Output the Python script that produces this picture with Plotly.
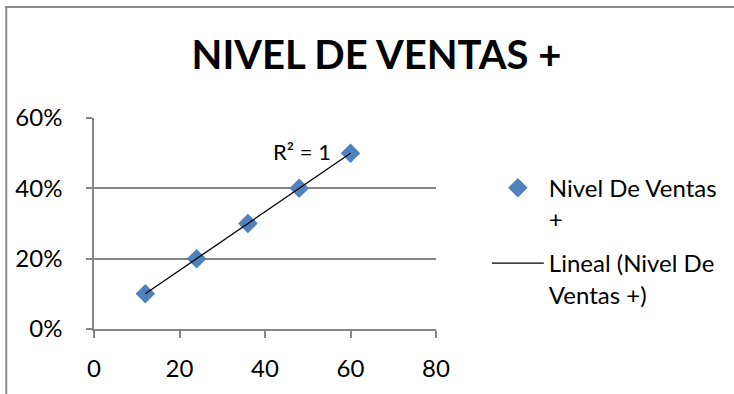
import numpy as np
import plotly.graph_objects as go

x_vals = [12, 24, 36, 48, 60]
y_vals = [0.10, 0.20, 0.30, 0.40, 0.50]
series_name = "Nivel De Ventas<br>+"
trend_name = "Lineal (Nivel De<br>Ventas +)"
title_text = "NIVEL DE VENTAS +"
x_ticks = [0, 20, 40, 60, 80]
y_ticks = [0, 0.2, 0.4, 0.6]

slope, intercept = np.polyfit(x_vals, y_vals, 1)
tx = [min(x_vals), max(x_vals)]
ty = [slope * v + intercept for v in tx]

FONT = "Lato"
L, R, T, B = 94, 297, 118, 63
PW, PH = 734 - L - R, 394 - T - B

def px_x(p):
    return (p - L) / PW

def px_y(p):
    return (394 - B - p) / PH

fig = go.Figure()
fig.add_trace(go.Scatter(x=x_vals, y=y_vals, mode="markers", name=series_name,
                         legendgroup="a",
                         marker=dict(symbol="diamond", size=15, color="#4F81BD")))
fig.add_trace(go.Scatter(x=tx, y=ty, mode="lines", name=trend_name,
                         legendgroup="b",
                         line=dict(color="black", width=1.3)))

fig.update_layout(
    width=734, height=394,
    margin=dict(l=L, r=R, t=T, b=B),
    paper_bgcolor="white", plot_bgcolor="white",
    font=dict(family=FONT, size=24, color="black"),
    title=dict(text="<b>" + title_text + "</b>", x=376.5 / 734, xanchor="center",
               y=1 - 54.5 / 394, yanchor="middle", font=dict(size=40, family=FONT)),
    xaxis=dict(range=[0, 80], tickvals=x_ticks, showgrid=False, zeroline=False,
               showline=True, linecolor="#868686", linewidth=1.5, ticks="outside", ticklen=7,
               tickcolor="#868686", tickwidth=1.5, tickfont=dict(size=24),
               ticklabelstandoff=10),
    yaxis=dict(range=[0, 0.6], tickvals=y_ticks, tickformat=".0%", showgrid=True,
               gridcolor="#868686", gridwidth=1.5, zeroline=False, showline=True,
               linecolor="#868686", linewidth=1.5, ticks="outside", ticklen=6,
               tickcolor="#868686", tickwidth=1.5, tickfont=dict(size=24),
               ticklabelstandoff=19),
    legend=dict(x=px_x(488), y=px_y(166), xanchor="left", yanchor="top", valign="top",
                font=dict(size=24), tracegroupgap=10, itemwidth=52),
    annotations=[dict(x=48.7, y=0.504, xref="x", yref="y", text="R² = 1",
                      showarrow=False, xanchor="center", yanchor="middle",
                      font=dict(size=22))],
    shapes=[dict(type="line", xref="paper", yref="paper", x0=px_x(5), x1=px_x(740),
                 y0=px_y(6), y1=px_y(6), line=dict(color="#8C8C8C", width=2)),
            dict(type="line", xref="paper", yref="paper", x0=px_x(6), x1=px_x(6),
                 y0=px_y(5), y1=px_y(400), line=dict(color="#8C8C8C", width=2))],
)
fig.write_html("out.html", config={"displayModeBar": False},
               post_script="document.body.style.margin='0';")
